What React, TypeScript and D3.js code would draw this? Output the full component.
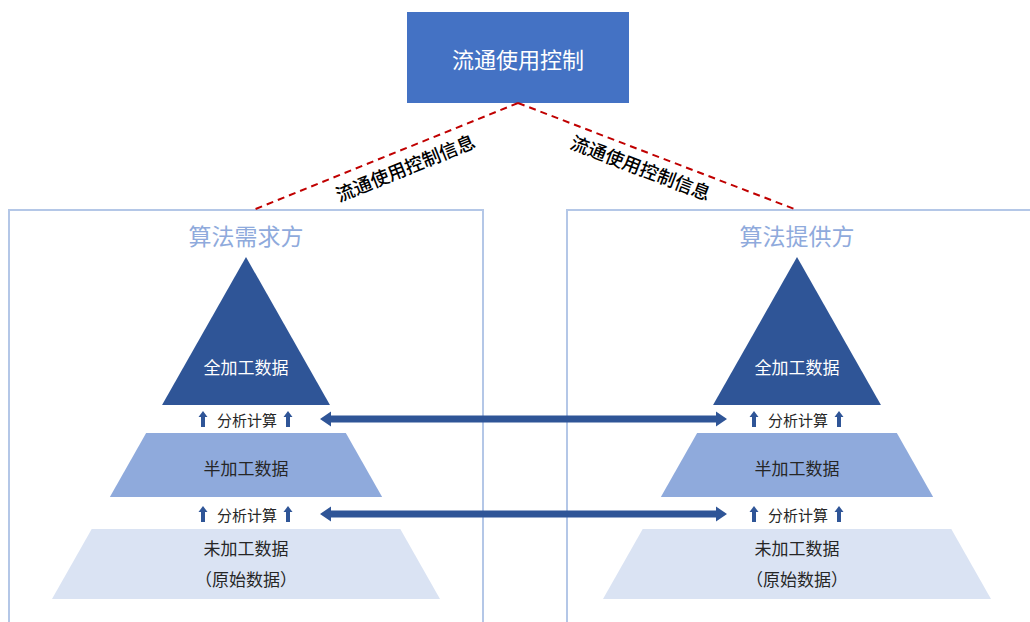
import React from "react";
import * as d3 from "d3";

// ---- content ----
const topLabel = "流通使用控制";
const linkLabel = "流通使用控制信息";
const panelTitles = ["算法需求方", "算法提供方"];
const layerLabels: string[][] = [["全加工数据"], ["半加工数据"], ["未加工数据", "（原始数据）"]];
const stepLabel = "分析计算";

// ---- layout ----
const W = 1030, H = 622;
const FONT = "'Noto Sans CJK SC', 'Microsoft YaHei', sans-serif";
const DARK = "#2F5597";
const layerFills = ["#2F5597", "#8FAADC", "#DAE3F3"];
const layerTextFills = ["#ffffff", "#262626", "#262626"];
const layerY: [number, number][] = [[257, 405], [433, 497], [529, 599]];
const stepY = [419, 514];

const centerX = d3.scalePoint<string>().domain(panelTitles).range([246, 797]);
const panelLeft = d3.scalePoint<string>().domain(panelTitles).range([9, 567]);
const halfW = d3.scaleLinear().domain([257, 599]).range([0, 194]);

function upArrow(x: number, y: number) {
  return `M${x},${y - 8} L${x + 4.5},${y - 2} L${x + 2},${y - 2} L${x + 2},${y + 8} L${x - 2},${y + 8} L${x - 2},${y - 2} L${x - 4.5},${y - 2} Z`;
}
function dblArrow(x1: number, x2: number, y: number) {
  const t = 3.5, h = 7.5, L = 11;
  return `M${x1},${y} L${x1 + L},${y - h} L${x1 + L},${y - t} L${x2 - L},${y - t} L${x2 - L},${y - h} L${x2},${y} L${x2 - L},${y + h} L${x2 - L},${y + t} L${x1 + L},${y + t} L${x1 + L},${y + h} Z`;
}

export default function App() {
  const topBox = { x: 407, y: 12, w: 222, h: 91 };
  const topAnchor = { x: 518, y: 103 };
  const linkEnds = [{ x: 253, y: 210 }, { x: 797, y: 210 }];
  const linkTextPos = [{ x: 405, y: 167 }, { x: 641, y: 167 }];
  const [cL, cR] = panelTitles.map((p) => centerX(p)!);

  return (
    <svg width={W} height={H} style={{ position: "fixed", left: 0, top: 0, background: "#fff" }} fontFamily={FONT}>
      <rect width={W} height={H} fill="#ffffff" />
      {/* panels */}
      {panelTitles.map((p) => (
        <g key={p}>
          <rect x={panelLeft(p)} y={210} width={474} height={440} fill="none" stroke="#B4C7E7" strokeWidth={2} />
          <text x={centerX(p)} y={235} textAnchor="middle" dominantBaseline="central" fontSize={23} fill="#8FAADC">{p}</text>
        </g>
      ))}
      {/* top box */}
      <rect x={topBox.x} y={topBox.y} width={topBox.w} height={topBox.h} fill="#4472C4" />
      <text x={topBox.x + topBox.w / 2} y={topBox.y + topBox.h / 2} textAnchor="middle" dominantBaseline="central" fontSize={22} fill="#fff">{topLabel}</text>
      {/* dashed links */}
      {linkEnds.map((e, i) => {
        const ang = (Math.atan2(e.y - topAnchor.y, e.x - topAnchor.x) * 180) / Math.PI;
        const rot = i === 0 ? ang - 180 : ang;
        return (
          <g key={i}>
            <line x1={topAnchor.x} y1={topAnchor.y} x2={e.x} y2={e.y} stroke="#C00000" strokeWidth={2} strokeDasharray="7,5" />
            <text x={linkTextPos[i].x} y={linkTextPos[i].y} textAnchor="middle" dominantBaseline="central" fontSize={18.5} fontWeight={500} fill="#000"
              transform={`rotate(${rot},${linkTextPos[i].x},${linkTextPos[i].y})`}>{linkLabel}</text>
          </g>
        );
      })}
      {/* pyramids */}
      {panelTitles.map((p) => {
        const cx = centerX(p)!;
        return (
          <g key={p}>
            {layerY.map(([y0, y1], i) => {
              const a = halfW(y0), b = halfW(y1);
              const pts = [[cx - a, y0], [cx + a, y0], [cx + b, y1], [cx - b, y1]];
              const path = d3.line()(pts as [number, number][]) + "Z";
              const lines = layerLabels[i];
              const baseY = i === 0 ? 366 : i === 1 ? 467 : 547;
              return (
                <g key={i}>
                  <path d={path} fill={layerFills[i]} />
                  {lines.map((t, j) => (
                    <text key={j} x={cx} y={baseY + j * 31} textAnchor="middle" dominantBaseline="central" fontSize={17} fill={layerTextFills[i]}>{t}</text>
                  ))}
                </g>
              );
            })}
            {stepY.map((y, k) => (
              <g key={k}>
                <path d={upArrow(cx - 43, y)} fill={DARK} />
                <path d={upArrow(cx + 42, y)} fill={DARK} />
                <text x={cx + 1} y={y} textAnchor="middle" dominantBaseline="central" fontSize={15} fill="#262626">{stepLabel}</text>
              </g>
            ))}
          </g>
        );
      })}
      {/* double arrows */}
      {stepY.map((y, k) => (
        <path key={k} d={dblArrow(cL + 74, cR - 70, y)} fill={DARK} />
      ))}
    </svg>
  );
}
